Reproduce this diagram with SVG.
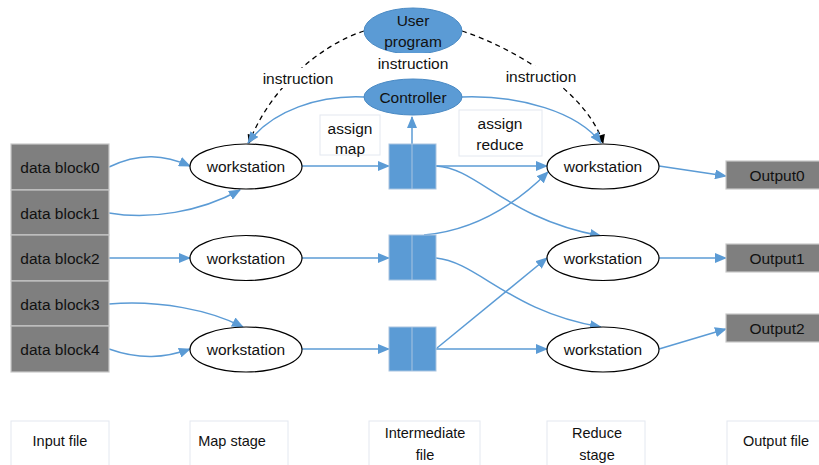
<svg xmlns="http://www.w3.org/2000/svg" width="819" height="465" viewBox="0 0 819 465">
<defs>
<marker id="ab" viewBox="0 0 12 10" refX="11" refY="5" markerWidth="12" markerHeight="10" markerUnits="userSpaceOnUse" orient="auto">
<path d="M0,0 L12,5 L0,10 z" fill="#5b9bd5"/>
</marker>
<marker id="ak" viewBox="0 0 10 10" refX="9" refY="5" markerWidth="10" markerHeight="9" markerUnits="userSpaceOnUse" orient="auto">
<path d="M0,0 L10,5 L0,10 z" fill="#000"/>
</marker>
</defs>
<style>
text{font-family:"Liberation Sans",Arial,sans-serif;font-size:15.5px;fill:#111;text-anchor:middle;dominant-baseline:central}
.blk{fill:#7f7f7f;stroke:#c8c8c8;stroke-width:1.2}
.ws{fill:#fff;stroke:#000;stroke-width:1.2}
.mid{fill:#5b9bd5;stroke:#a9c4e0;stroke-width:1}
.c{fill:none;stroke:#5b9bd5;stroke-width:1.5;marker-end:url(#ab)}
.d{fill:none;stroke:#000;stroke-width:1.3;stroke-dasharray:5,4;marker-end:url(#ak)}
.lb{fill:#fff;stroke:#e3e8f0;stroke-width:1}
.wb{fill:#fff;stroke:none}
.sm{font-size:14.5px}
</style>
<rect width="819" height="465" fill="#fff"/>

<g id="connectors">
<path class="d" d="M364,31 C320,45 270,88 249,143"/>
<path class="d" d="M462,31 C520,50 588,95 603,143"/>
<path class="c" d="M364,97 C320,95 272,110 248,143"/>
<path class="c" d="M462,97 C520,95 578,112 601,143"/>
<path class="c" d="M412,144 L412,117"/>
<path class="c" d="M109,167 C140,152 165,155 190,166"/>
<path class="c" d="M109,213 C150,220 200,212 240,190"/>
<path class="c" d="M109,258 L190,258"/>
<path class="c" d="M109,304 C160,300 210,310 243,327"/>
<path class="c" d="M109,349 C140,360 165,358 190,349"/>
<path class="c" d="M302,166 L389,166"/>
<path class="c" d="M302,258 L389,258"/>
<path class="c" d="M302,349 L389,349"/>
<path class="c" d="M436,166 L547,166"/>
<path class="c" d="M436,166 C478,168 505,218 601,236"/>
<path class="c" d="M424,235 C480,230 520,200 548,172"/>
<path class="c" d="M436,258 C478,262 510,312 601,327"/>
<path class="c" d="M437,348 L547,258"/>
<path class="c" d="M436,349 L547,349"/>
<path class="c" d="M659,166 L726,176"/>
<path class="c" d="M659,258 L726,258"/>
<path class="c" d="M659,349 L726,329"/>
</g>

<g id="label-instruction-left"><rect class="wb" x="254" y="68" width="88" height="20"/><text x="298" y="78">instruction</text></g>
<g id="label-instruction-right"><rect class="wb" x="497" y="66" width="88" height="20"/><text x="541" y="76">instruction</text></g>

<g id="user-program">
<ellipse cx="413" cy="31" rx="49" ry="23" fill="#5b9bd5" stroke="#4a8ac4" stroke-width="1"/>
<text x="413" y="20">User</text>
<text x="413" y="41">program</text>
</g>
<g id="label-instruction-mid"><rect class="wb" x="368" y="53" width="90" height="20"/><text x="413" y="63">instruction</text></g>

<g id="controller">
<ellipse cx="413" cy="97" rx="49" ry="18" fill="#5b9bd5" stroke="#4a8ac4" stroke-width="1"/>
<text x="413" y="97">Controller</text>
</g>

<g id="assign-map"><rect class="lb" x="320" y="115" width="60" height="40"/><text x="350" y="128">assign</text><text x="350" y="148">map</text></g>
<g id="assign-reduce"><rect class="lb" x="459" y="110" width="83" height="46"/><text x="500" y="123">assign</text><text x="500" y="144">reduce</text></g>

<g id="block0"><rect class="blk" x="11" y="144" width="98" height="46"/><text x="60" y="167">data block0</text></g>
<g id="block1"><rect class="blk" x="11" y="190" width="98" height="45"/><text x="60" y="213">data block1</text></g>
<g id="block2"><rect class="blk" x="11" y="235" width="98" height="46"/><text x="60" y="258">data block2</text></g>
<g id="block3"><rect class="blk" x="11" y="281" width="98" height="45"/><text x="60" y="304">data block3</text></g>
<g id="block4"><rect class="blk" x="11" y="326" width="98" height="46"/><text x="60" y="349">data block4</text></g>

<g id="map-ws0"><ellipse class="ws" cx="246" cy="166.5" rx="56" ry="22.5"/><text x="246" y="166">workstation</text></g>
<g id="map-ws1"><ellipse class="ws" cx="246" cy="258" rx="56" ry="22.5"/><text x="246" y="258">workstation</text></g>
<g id="map-ws2"><ellipse class="ws" cx="246" cy="349.5" rx="56" ry="22.5"/><text x="246" y="349">workstation</text></g>

<g id="inter0"><rect class="mid" x="389" y="144" width="47" height="45"/><line x1="412" y1="144" x2="412" y2="189" stroke="#a9c4e0"/></g>
<g id="inter1"><rect class="mid" x="389" y="235" width="47" height="45"/><line x1="412" y1="235" x2="412" y2="280" stroke="#a9c4e0"/></g>
<g id="inter2"><rect class="mid" x="389" y="327" width="47" height="44"/><line x1="412" y1="327" x2="412" y2="371" stroke="#a9c4e0"/></g>

<g id="red-ws0"><ellipse class="ws" cx="603" cy="166.5" rx="56" ry="22.5"/><text x="603" y="166">workstation</text></g>
<g id="red-ws1"><ellipse class="ws" cx="603" cy="258" rx="56" ry="22.5"/><text x="603" y="258">workstation</text></g>
<g id="red-ws2"><ellipse class="ws" cx="603" cy="349.5" rx="56" ry="22.5"/><text x="603" y="349">workstation</text></g>

<g id="out0"><rect class="blk" x="726" y="161" width="102" height="28"/><text x="777" y="175">Output0</text></g>
<g id="out1"><rect class="blk" x="726" y="244" width="102" height="28"/><text x="777" y="258">Output1</text></g>
<g id="out2"><rect class="blk" x="726" y="314" width="102" height="28"/><text x="777" y="328">Output2</text></g>

<g id="stage-input"><rect class="lb" x="11" y="421" width="98" height="50"/><text class="sm" x="60" y="441">Input file</text></g>
<g id="stage-map"><rect class="lb" x="190" y="421" width="98" height="50"/><text class="sm" x="232" y="441">Map stage</text></g>
<g id="stage-inter"><rect class="lb" x="369" y="421" width="111" height="50"/><text class="sm" x="425" y="433">Intermediate</text><text class="sm" x="425" y="455">file</text></g>
<g id="stage-reduce"><rect class="lb" x="547" y="421" width="98" height="50"/><text class="sm" x="597" y="433">Reduce</text><text class="sm" x="597" y="455">stage</text></g>
<g id="stage-output"><rect class="lb" x="727" y="421" width="100" height="50"/><text class="sm" x="776" y="441">Output file</text></g>
</svg>
